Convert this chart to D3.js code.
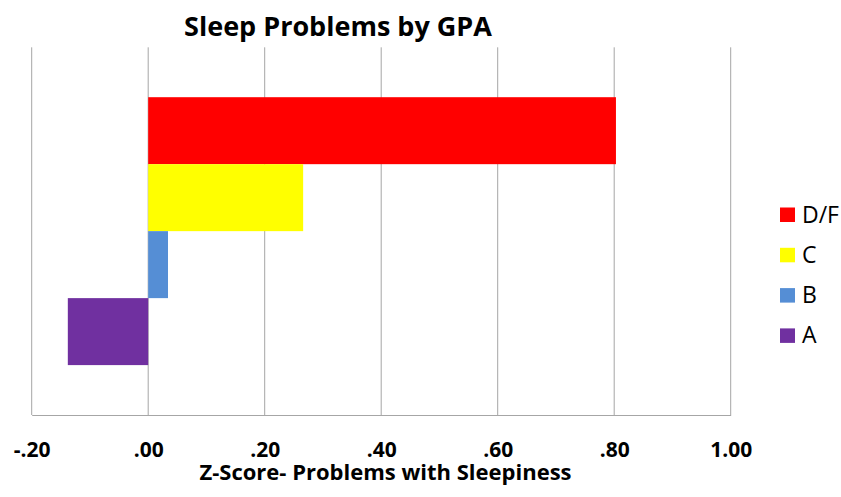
<!DOCTYPE html>
<html>
<head>
<meta charset="utf-8">
<script src="https://cdn.jsdelivr.net/npm/d3@7"></script>
<style>
  body { margin: 0; background: #fff; }
  svg text { font-family: "Open Sans", "Liberation Sans", sans-serif; fill: #000; }
</style>
</head>
<body>
<svg id="chart" width="841" height="497"></svg>
<script>
// values
const groups = ["D/F", "C", "B", "A"];
const zScores = [0.803, 0.266, 0.034, -0.138];
const groupColors = ["#ff0000", "#ffff00", "#558ed5", "#7030a0"];
const tickValues = [-0.2, 0, 0.2, 0.4, 0.6, 0.8, 1.0];

const svg = d3.select("#chart");

let x = d3.scaleLinear().domain([-0.2, 1.0]).range([31.7, 730.7]);
let y = d3.scaleBand().domain(groups).range([47.3, 415]).paddingInner(0).paddingOuter(0.745);

function fmt(v) {
    let s = d3.format(".2f")(v).replace("\u2212", "-");
    return s.replace("0.", ".");
}

// gridlines
svg.append("g")
    .selectAll("line")
    .data(tickValues)
    .join("line")
    .attr("x1", d => x(d)).attr("x2", d => x(d))
    .attr("y1", 47.3).attr("y2", 415)
    .attr("stroke", "#a6a6a6")
    .attr("stroke-width", 1);

// bars
svg.append("g")
    .selectAll("rect")
    .data(groups)
    .join("rect")
    .attr("x", (d, i) => x(Math.min(0, zScores[i])))
    .attr("y", d => y(d))
    .attr("width", (d, i) => Math.abs(x(zScores[i]) - x(0)))
    .attr("height", y.bandwidth())
    .attr("fill", (d, i) => groupColors[i]);

// bottom axis
let xAxis = d3.axisBottom(x).tickValues(tickValues).tickSize(0).tickFormat(fmt);
let axisG = svg.append("g").attr("transform", "translate(0,415)").call(xAxis);
axisG.select(".domain").attr("stroke", "#a6a6a6");
axisG.selectAll("text")
    .attr("font-family", "Open Sans")
    .attr("font-size", 21)
    .attr("font-weight", "bold")
    .attr("dy", null)
    .attr("y", 42);

// titles
svg.append("text")
    .attr("x", 338).attr("y", 36)
    .attr("text-anchor", "middle")
    .attr("font-size", 27)
    .attr("font-weight", "bold")
    .text("Sleep Problems by GPA");

svg.append("text")
    .attr("x", 385.5).attr("y", 480)
    .attr("text-anchor", "middle")
    .attr("font-size", 22)
    .attr("font-weight", "bold")
    .text("Z-Score- Problems with Sleepiness");

// legend
let legend = svg.append("g")
    .selectAll("g")
    .data(groups)
    .join("g")
    .attr("transform", (d, i) => "translate(780," + (207.5 + i * 40.3) + ")");
legend.append("rect")
    .attr("width", 15).attr("height", 14.5)
    .attr("fill", (d, i) => groupColors[i]);
legend.append("text")
    .attr("x", 22).attr("y", 15)
    .attr("font-size", 23)
    .text(d => d);
</script>
</body>
</html>
